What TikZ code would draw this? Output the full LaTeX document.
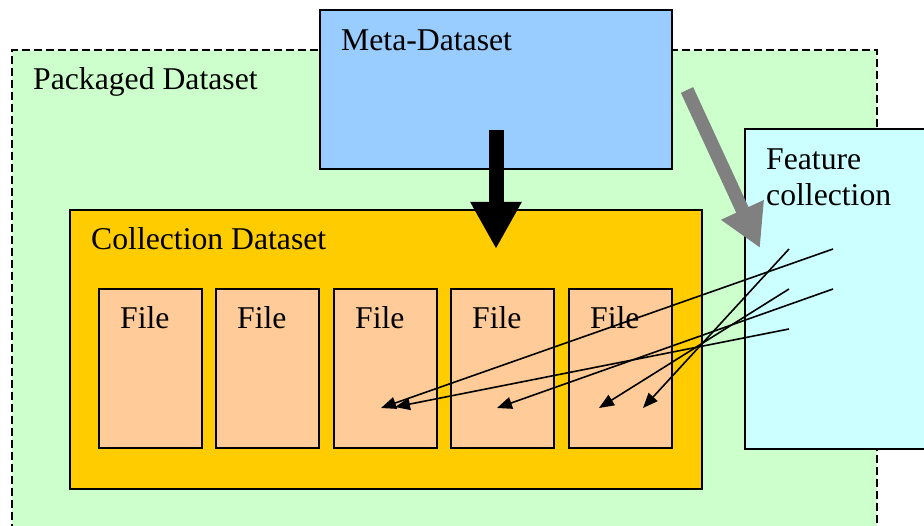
\documentclass[tikz,border=0pt]{standalone}
\usepackage{fontspec}
\setmainfont{Liberation Serif}
\usetikzlibrary{arrows.meta}
\definecolor{pkggreen}{HTML}{CCFFCC}
\definecolor{metablue}{HTML}{99CCFF}
\definecolor{collorange}{HTML}{FFCC00}
\definecolor{filepeach}{HTML}{FFCC99}
\definecolor{featcyan}{HTML}{CCFFFF}
\definecolor{arrowgray}{HTML}{808080}
\tikzset{
  box/.style={draw=black, line width=1.5pt, rectangle, inner sep=0pt, outer sep=0pt, anchor=north west},
  lbl/.style={anchor=base west, inner sep=0pt, font=\fontsize{31.7}{36}\selectfont},
  filebox/.style={box, fill=filepeach, minimum width=103pt, minimum height=159pt},
  thin/.style={draw=black, line width=1.6pt, -{Triangle[length=15pt,width=12pt]}},
}
\begin{document}
\begin{tikzpicture}[x=1pt,y=-1pt]
\useasboundingbox (0,0) rectangle (924,526);
\clip (0,0) rectangle (924,526);
% packaged dataset
\node[box, fill=pkggreen, dash pattern=on 8pt off 4pt, line width=1.3pt, minimum width=865pt, minimum height=520pt] (pkg) at (12,50) {};
\node[lbl] (pkgt) at (33,90) {Packaged Dataset};
% meta-dataset
\node[box, fill=metablue, minimum width=352pt, minimum height=159pt] (meta) at (320,10) {};
\node[lbl] (metat) at (341,51) {Meta-Dataset};
% collection dataset
\node[box, fill=collorange, minimum width=632pt, minimum height=279pt] (coll) at (70,210) {};
\node[lbl] (collt) at (91,250) {Collection Dataset};
% files
\node[filebox] (f1) at (99,289) {};
\node[filebox] (f2) at (216,289) {};
\node[filebox] (f3) at (334,289) {};
\node[filebox] (f4) at (451,289) {};
\node[filebox] (f5) at (569,289) {};
\node[lbl] (f1t) at (120,329) {File};
\node[lbl] (f2t) at (237,329) {File};
\node[lbl] (f3t) at (355,329) {File};
\node[lbl] (f4t) at (472,329) {File};
\node[lbl] (f5t) at (590,329) {File};
% feature collection
\node[box, fill=featcyan, minimum width=200pt, minimum height=320pt] (feat) at (745,129) {};
\node[lbl] (featt1) at (766,170) {Feature};
\node[lbl] (featt2) at (766,206) {collection};
% big arrows
\coordinate (bs) at (496,130);
\coordinate (be) at (496,249);
\draw[line width=15pt, -{Triangle[length=47pt,width=48pt]}] (bs) -- (be);
\coordinate (gs) at (687,90);
\coordinate (ge) at (760,248);
\draw[arrowgray, line width=13.5pt, -{Triangle[length=42pt,width=44pt]}] (gs) -- (ge);
% thin arrows
\coordinate (s1) at (833,249);
\coordinate (s2) at (789,249);
\coordinate (s3) at (789,289);
\coordinate (s4) at (833,289);
\coordinate (s5) at (789,329);
\coordinate (t1) at (381,408);
\coordinate (t2) at (643,408);
\coordinate (t3) at (599,408);
\coordinate (t4) at (497,408);
\coordinate (t5) at (395,407);
\draw[thin] (s1) -- (t1);
\draw[thin] (s2) -- (t2);
\draw[thin] (s3) -- (t3);
\draw[thin] (s4) -- (t4);
\draw[thin] (s5) -- (t5);
\end{tikzpicture}
\end{document}
